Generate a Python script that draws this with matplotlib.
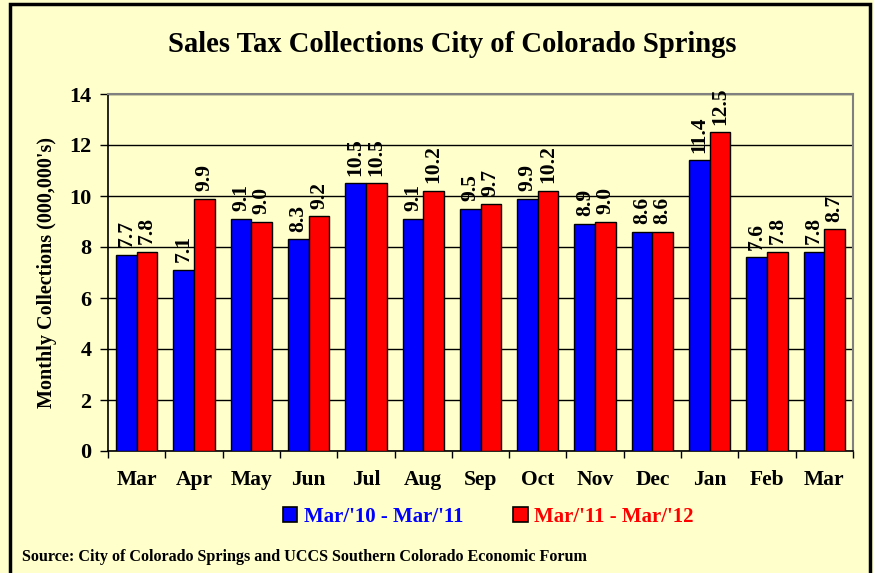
import matplotlib
matplotlib.use("Agg")
import matplotlib.pyplot as plt
from matplotlib.patches import Rectangle, Patch
import numpy as np

months = ["Mar", "Apr", "May", "Jun", "Jul", "Aug", "Sep", "Oct", "Nov", "Dec", "Jan", "Feb", "Mar"]
series1_name = "Mar/'10 - Mar/'11"
series2_name = "Mar/'11 - Mar/'12"
series1 = [7.7, 7.1, 9.1, 8.3, 10.5, 9.1, 9.5, 9.9, 8.9, 8.6, 11.4, 7.6, 7.8]
series2 = [7.8, 9.9, 9.0, 9.2, 10.5, 10.2, 9.7, 10.2, 9.0, 8.6, 12.5, 7.8, 8.7]
yticks = [0, 2, 4, 6, 8, 10, 12, 14]

BG = "#FFFFCC"
BLUE = "#0000FF"
RED = "#FF0000"
plt.rcParams["font.family"] = ["Liberation Serif", "DejaVu Serif"]
plt.rcParams["font.weight"] = "bold"

W, H = 874, 573
fig = plt.figure(figsize=(W / 100, H / 100), dpi=100, facecolor=BG)

# outer border
fig.patches.append(Rectangle((10 / W, -0.05), 860 / W, 1.05 - 4 / H, transform=fig.transFigure,
                             fill=False, edgecolor="black", linewidth=2.5, zorder=0))

ax = fig.add_axes([108 / W, (H - 451) / H, 745 / W, 357 / H])
ax.set_facecolor(BG)

x = np.arange(len(months))
bw = 0.36
ax.bar(x - bw / 2, series1, width=bw, color=BLUE, edgecolor="black", linewidth=1.0, zorder=3)
ax.bar(x + bw / 2, series2, width=bw, color=RED, edgecolor="black", linewidth=1.0, zorder=3)

for xi, v in zip(x - bw / 2, series1):
    ax.text(xi, v + 0.3, f"{v:.1f}", rotation=90, ha="center", va="bottom",
            fontsize=15.5, fontweight="bold", zorder=4)
for xi, v in zip(x + bw / 2, series2):
    ax.text(xi, v + 0.3, f"{v:.1f}", rotation=90, ha="center", va="bottom",
            fontsize=15.5, fontweight="bold", zorder=4)

ax.set_xlim(-0.5, len(months) - 0.5)
ax.set_ylim(0, 14)
ax.set_yticks(yticks)
ax.set_yticklabels([str(t) for t in yticks], fontsize=16, fontweight="bold")
ax.yaxis.grid(True, color="black", linewidth=1.0, zorder=0)
ax.set_axisbelow(True)

ax.set_xticks(x)
ax.set_xticklabels(months, fontsize=15.5, fontweight="bold")
ax.tick_params(axis="x", which="major", length=0, pad=14)
ax.set_xticks(np.arange(-0.5, len(months)), minor=True)
ax.tick_params(axis="x", which="minor", length=5, width=1, color="black", direction="out")
ax.tick_params(axis="y", length=6, width=1, color="black", direction="out", pad=6)

for side in ["top", "right"]:
    ax.spines[side].set_color("#808080")
    ax.spines[side].set_linewidth(1.5)
for side in ["left", "bottom"]:
    ax.spines[side].set_color("black")
    ax.spines[side].set_linewidth(1.2)

ax.set_ylabel("Monthly Collections (000,000's)", fontsize=14.5, fontweight="bold", labelpad=9)

fig.text(452 / W, 1 - 45 / H, "Sales Tax Collections City of Colorado Springs", ha="center", va="center",
         fontsize=20.6, fontweight="bold")

handles = [Patch(facecolor=BLUE, edgecolor="black", linewidth=1.2),
           Patch(facecolor=RED, edgecolor="black", linewidth=1.2)]
leg = fig.legend(handles, [series1_name, series2_name], loc="center", bbox_to_anchor=(488 / W, 1 - 517 / H),
                 ncol=2, frameon=False, handlelength=0.7, handleheight=0.7,
                 handletextpad=0.3, columnspacing=2.4, labelcolor=[BLUE, RED],
                 prop={"weight": "bold", "size": 15})

fig.text(22 / W, 1 - 557 / H, "Source: City of Colorado Springs and UCCS Southern Colorado Economic Forum",
         ha="left", va="center", fontsize=11.6, fontweight="bold")

fig.savefig("out.png", dpi=100, facecolor=BG)
